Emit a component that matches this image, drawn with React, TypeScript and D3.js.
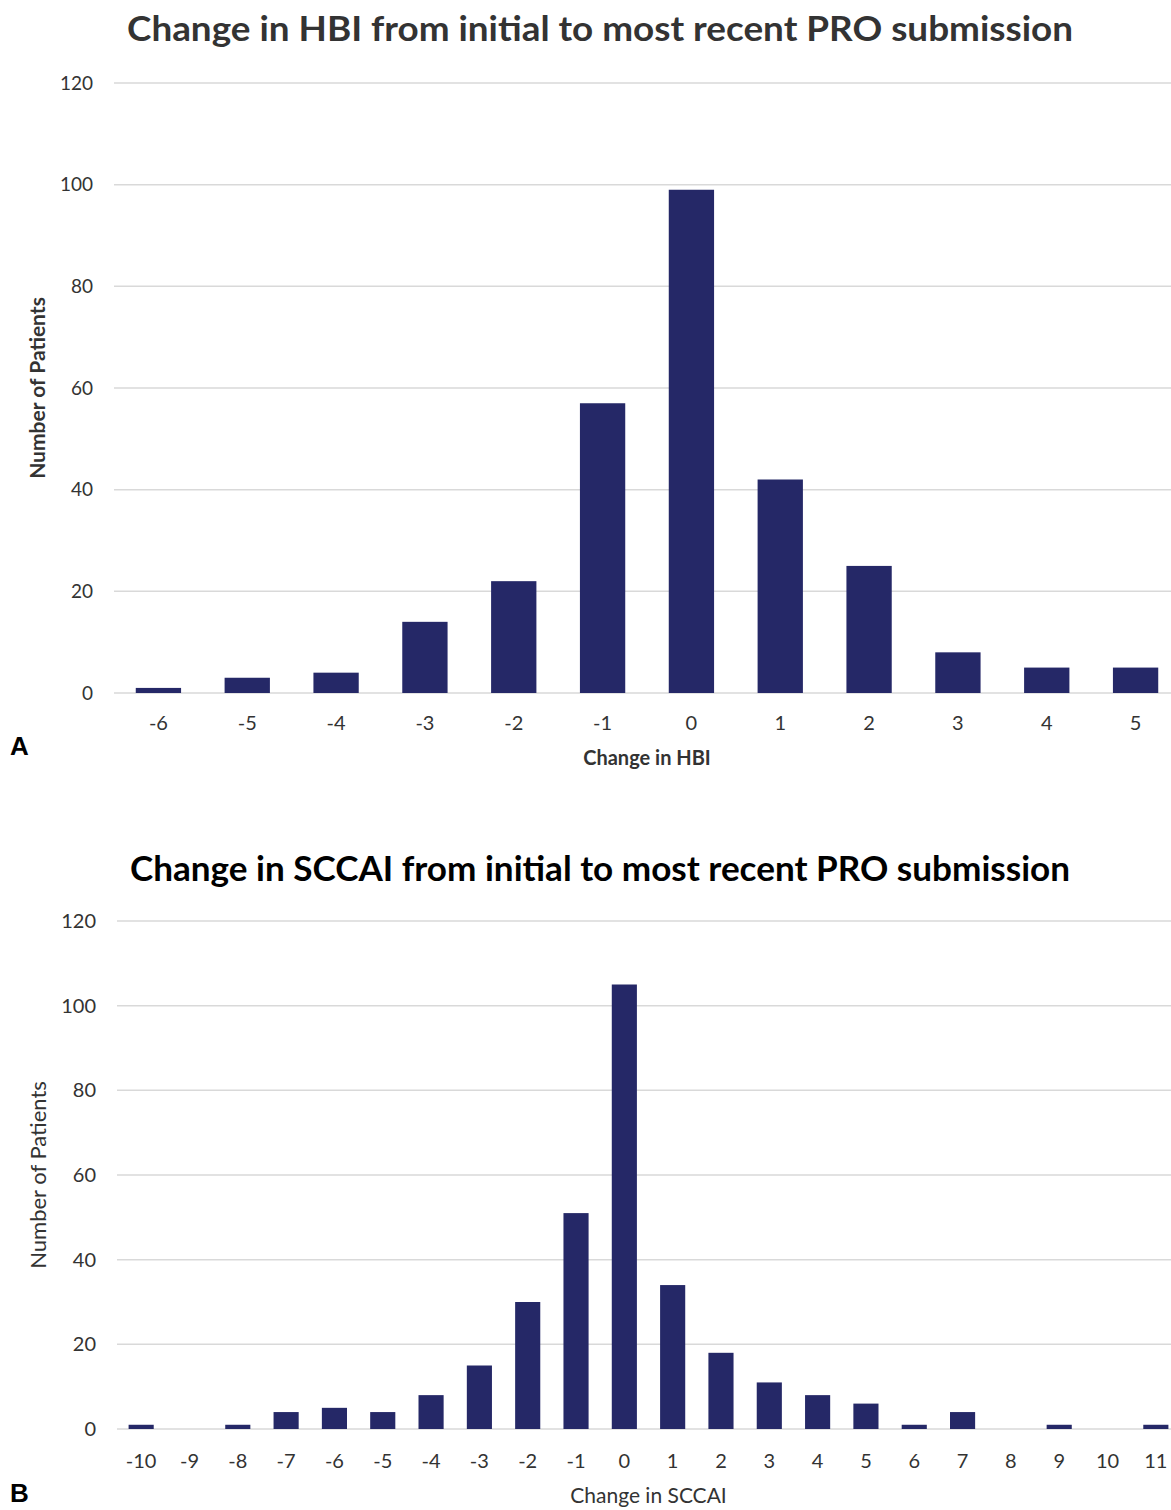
import { useEffect, useRef } from "react";
import * as d3 from "d3";

const hbiChanges = ["-6", "-5", "-4", "-3", "-2", "-1", "0", "1", "2", "3", "4", "5"];
const hbiCounts = [1, 3, 4, 14, 22, 57, 99, 42, 25, 8, 5, 5];

const sccaiChanges = [
  "-10", "-9", "-8", "-7", "-6", "-5", "-4", "-3", "-2", "-1", "0",
  "1", "2", "3", "4", "5", "6", "7", "8", "9", "10", "11"
];
const sccaiCounts = [1, 0, 1, 4, 5, 4, 8, 15, 30, 51, 105, 34, 18, 11, 8, 6, 1, 4, 0, 1, 0, 1];

const yTicks = [0, 20, 40, 60, 80, 100, 120];

const BAR_COLOR = "#252867";
const FONT = "Lato, 'Open Sans', sans-serif";

type PanelOpts = {
  cats: string[];
  vals: number[];
  title: string;
  titleColor: string;
  titleY: number;
  titleWidth: number;
  top: number;
  bottom: number;
  left: number;
  right: number;
  pad: number;
  tickSize: number;
  catSize: number;
  catY: number;
  xTitle: string;
  xTitleY: number;
  xTitleBold: boolean;
  xTitleSize: number;
  yTitleBold: boolean;
  yTitleSize: number;
  letter: string;
  letterY: number;
};

function drawPanel(svg: d3.Selection<SVGSVGElement, unknown, null, undefined>, o: PanelOpts) {
  const g = svg.append("g");

  const x = d3.scaleBand().domain(o.cats).range([o.left, o.right]).paddingInner(o.pad).paddingOuter(o.pad / 2);
  const y = d3.scaleLinear().domain([0, 120]).range([o.bottom, o.top]);

  // gridlines
  g.append("g")
    .selectAll("line")
    .data(yTicks)
    .join("line")
    .attr("x1", o.left)
    .attr("x2", o.right)
    .attr("y1", (d) => y(d))
    .attr("y2", (d) => y(d))
    .attr("stroke", "#d9d9d9")
    .attr("stroke-width", 1.5);

  // y tick labels
  g.append("g")
    .selectAll("text")
    .data(yTicks)
    .join("text")
    .attr("x", o.left - 21)
    .attr("y", (d) => y(d))
    .attr("dy", "0.35em")
    .attr("text-anchor", "end")
    .attr("font-family", FONT)
    .attr("font-size", o.tickSize)
    .attr("fill", "#333")
    .text((d) => d);

  // bars
  g.append("g")
    .selectAll("rect")
    .data(o.vals)
    .join("rect")
    .attr("x", (_, i) => x(o.cats[i]) as number)
    .attr("width", x.bandwidth())
    .attr("y", (d) => y(d))
    .attr("height", (d) => o.bottom - y(d))
    .attr("fill", BAR_COLOR);

  // category labels
  g.append("g")
    .selectAll("text")
    .data(o.cats)
    .join("text")
    .attr("x", (d) => (x(d) as number) + x.bandwidth() / 2)
    .attr("y", o.catY)
    .attr("dy", "0.35em")
    .attr("text-anchor", "middle")
    .attr("font-family", FONT)
    .attr("font-size", o.catSize)
    .attr("fill", "#333")
    .text((d) => d);

  const midX = (o.left + o.right) / 2;

  g.append("text")
    .attr("x", midX)
    .attr("y", o.xTitleY)
    .attr("dy", "0.35em")
    .attr("text-anchor", "middle")
    .attr("font-family", FONT)
    .attr("font-weight", o.xTitleBold ? 700 : 400)
    .attr("font-size", o.xTitleSize)
    .attr("fill", "#333")
    .text(o.xTitle);

  g.append("text")
    .attr("transform", `translate(38,${(o.top + o.bottom) / 2}) rotate(-90)`)
    .attr("dy", "0.35em")
    .attr("text-anchor", "middle")
    .attr("font-family", FONT)
    .attr("font-weight", o.yTitleBold ? 700 : 400)
    .attr("font-size", o.yTitleSize)
    .attr("fill", "#333")
    .text("Number of Patients");

  g.append("text")
    .attr("x", 600)
    .attr("y", o.titleY)
    .attr("dy", "0.35em")
    .attr("text-anchor", "middle")
    .attr("font-family", FONT)
    .attr("font-weight", 700)
    .attr("font-size", 34)
    .attr("textLength", o.titleWidth)
    .attr("lengthAdjust", "spacingAndGlyphs")
    .attr("fill", o.titleColor)
    .text(o.title);

  g.append("text")
    .attr("x", 10)
    .attr("y", o.letterY)
    .attr("dy", "0.35em")
    .attr("font-family", "'Liberation Sans', Arial, sans-serif")
    .attr("font-weight", 700)
    .attr("font-size", 26)
    .attr("fill", "#000")
    .text(o.letter);
}

export default function App() {
  const svgRef = useRef<SVGSVGElement | null>(null);

  useEffect(() => {
    const svg = d3.select(svgRef.current as SVGSVGElement);
    svg.selectAll("*").remove();

    drawPanel(svg, {
      cats: hbiChanges,
      vals: hbiCounts,
      title: "Change in HBI from initial to most recent PRO submission",
      titleColor: "#333",
      titleY: 29,
      titleWidth: 946,
      top: 83,
      bottom: 693,
      left: 114,
      right: 1180,
      pad: 0.49,
      tickSize: 19,
      catSize: 20,
      catY: 723,
      xTitle: "Change in HBI",
      xTitleY: 758,
      xTitleBold: true,
      xTitleSize: 20,
      yTitleBold: true,
      yTitleSize: 21,
      letter: "A",
      letterY: 746
    });

    drawPanel(svg, {
      cats: sccaiChanges,
      vals: sccaiCounts,
      title: "Change in SCCAI from initial to most recent PRO submission",
      titleColor: "#000",
      titleY: 869,
      titleWidth: 940,
      top: 921,
      bottom: 1429,
      left: 117,
      right: 1180,
      pad: 0.48,
      tickSize: 20,
      catSize: 20,
      catY: 1461,
      xTitle: "Change in SCCAI",
      xTitleY: 1496,
      xTitleBold: false,
      xTitleSize: 21,
      yTitleBold: false,
      yTitleSize: 22,
      letter: "B",
      letterY: 1493
    });
  }, []);

  return (
    <svg
      ref={svgRef}
      width={1171}
      height={1510}
      style={{ position: "absolute", left: 0, top: 0, background: "#fff" }}
    />
  );
}
